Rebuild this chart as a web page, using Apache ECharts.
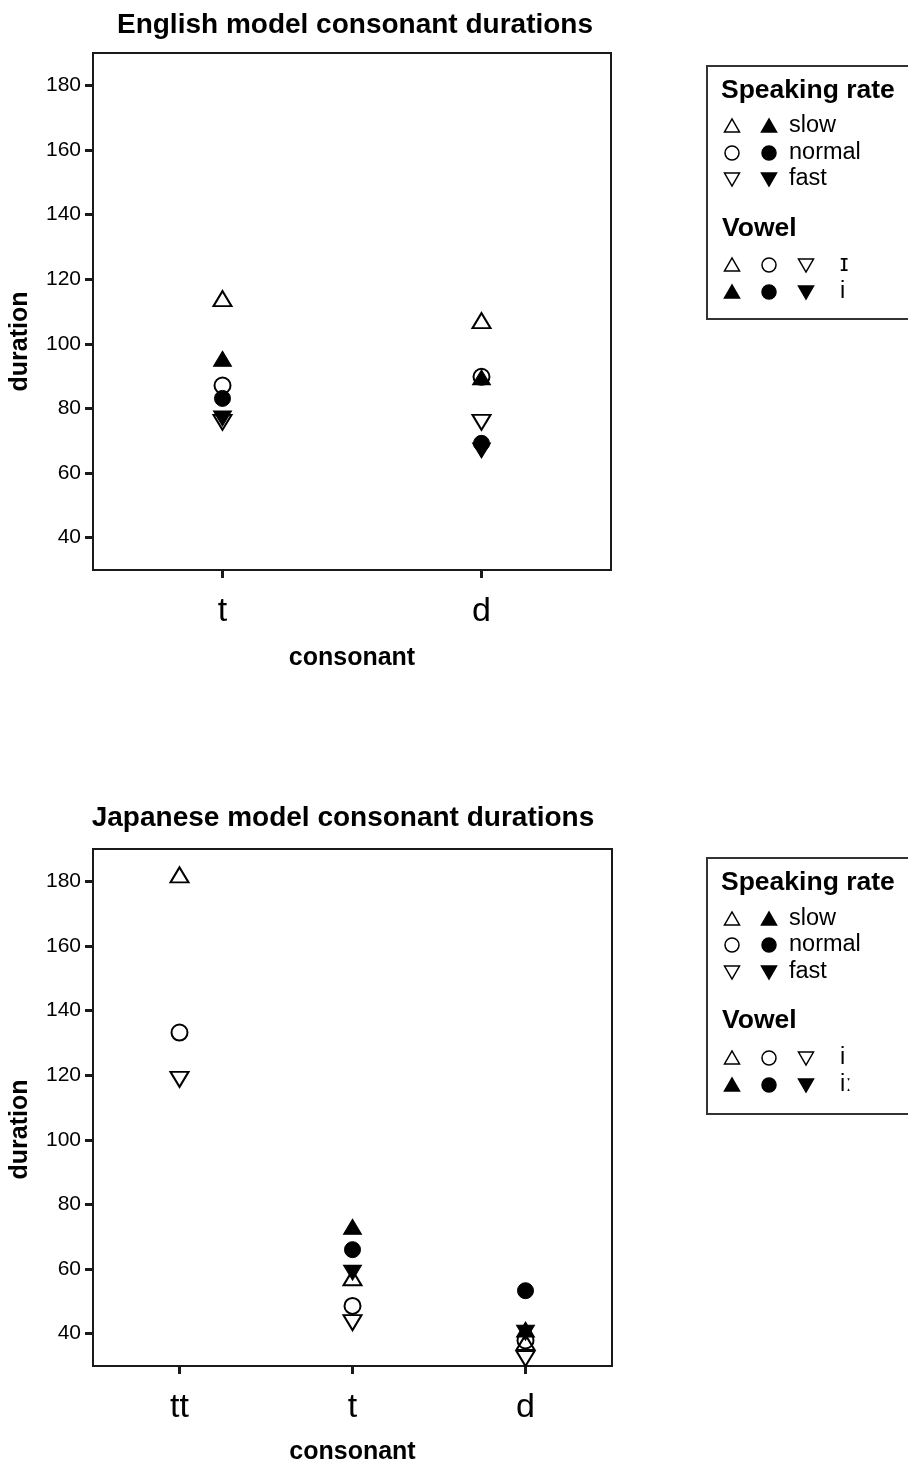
<!DOCTYPE html>
<html>
<head>
<meta charset="utf-8">
<script src="https://cdn.jsdelivr.net/npm/echarts@6/dist/echarts.min.js"></script>
<style>
html,body{margin:0;padding:0;background:#fff;}
#c{width:908px;height:1466px;}
</style>
</head>
<body>
<div id="c"></div>
<script>
// ---------- data ----------
const EN_categories = ['t', 'd'];
const EN_slow_I   = [114.0, 107.2];   // open up-triangle (ɪ)
const EN_slow_i   = [95.4, 89.6];     // filled up-triangle (i)
const EN_normal_I = [87.1, 89.8];     // open circle
const EN_normal_i = [83.1, 69.2];     // filled circle
const EN_fast_I   = [75.7, 75.7];     // open down-triangle
const EN_fast_i   = [76.9, 67.0];     // filled down-triangle

const JP_categories = ['tt', 't', 'd'];
const JP_slow_i    = [182.0, 57.3, 37.3];   // open (i)
const JP_slow_ii   = [null, 73.1, 41.3];    // filled (iː)
const JP_normal_i  = [133.2, 48.6, 37.9];
const JP_normal_ii = [null, 66.0, 53.3];
const JP_fast_i    = [118.7, 43.4, 32.3];
const JP_fast_ii   = [null, 58.9, 40.3];

const yTicks = [40, 60, 80, 100, 120, 140, 160, 180];
const rateLabels = ['slow', 'normal', 'fast'];
const EN_vowels = ['ɪ', 'i'];
const JP_vowels = ['i', 'iː'];

// ---------- style ----------
const FONT = 'Liberation Sans, Arial, Helvetica, sans-serif';
const INK = '#000';

function seriesDef(name, data, gi, symbol, filled, down) {
  return {
    type: 'scatter', name: name, xAxisIndex: gi, yAxisIndex: gi,
    data: data, symbol: symbol,
    symbolSize: symbol === 'circle' ? 16 : [18, 15],
    symbolRotate: down ? 180 : 0,
    itemStyle: filled ? { color: INK, borderColor: INK, borderWidth: 1, opacity: 1 }
                      : { color: 'rgba(0,0,0,0)', borderColor: INK, borderWidth: 2, opacity: 1 },
    emphasis: { disabled: true },
    z: filled ? 3 : 2
  };
}

function xAxisDef(gi, cats, gap) {
  return {
    type: 'category', gridIndex: gi, data: cats, boundaryGap: true,
    axisLine: { show: true, lineStyle: { color: '#1a1a1a', width: 2 } },
    axisTick: { show: true, alignWithLabel: true, length: 8, lineStyle: { color: '#1a1a1a', width: 3 } },
    axisLabel: { fontFamily: FONT, fontSize: 34, color: INK, margin: 25 },
    name: 'consonant', nameLocation: 'middle', nameGap: gap,
    nameTextStyle: { fontFamily: FONT, fontSize: 25, fontWeight: 'bold', color: INK },
    splitLine: { show: false }
  };
}

function yAxisDef(gi, shift) {
  return {
    type: 'value', gridIndex: gi, min: 30, max: 190,
    axisLine: { show: true, lineStyle: { color: '#1a1a1a', width: 2 } },
    axisTick: { show: true, customValues: yTicks, length: 8, lineStyle: { color: '#1a1a1a', width: 3 } },
    axisLabel: { customValues: yTicks, fontFamily: FONT, fontSize: 21, color: INK, margin: 12 },
    splitLine: { show: false },
    name: 'duration', nameLocation: 'middle', nameGap: 60,
    nameTextStyle: { fontFamily: FONT, fontSize: 25, fontWeight: 'bold', color: INK, padding: [0, shift, 0, 0] }
  };
}

// ---------- legend graphics ----------
function marker(x, y, shape, filled) {
  const style = { fill: filled ? INK : 'none', stroke: INK, lineWidth: 1.5 };
  if (shape === 'circle') return { type: 'circle', shape: { cx: x, cy: y, r: 7 }, style: style };
  const pts = shape === 'up' ? [[x - 7.5, y + 6], [x + 7.5, y + 6], [x, y - 7]]
                             : [[x - 7.5, y - 6], [x + 7.5, y - 6], [x, y + 7]];
  return { type: 'polygon', shape: { points: pts }, style: style };
}
function txt(x, y, s, size, bold) {
  return { type: 'text', x: x, y: y,
    style: { text: s, font: (bold ? 'bold ' : '') + size + 'px ' + FONT, fill: INK, align: 'left', verticalAlign: 'middle' } };
}
function legendBox(top, h, rows, vowelLabels) {
  const els = [];
  els.push({ type: 'rect', shape: { x: 707, y: top, width: 210, height: h },
    style: { fill: 'none', stroke: '#333', lineWidth: 2 } });
  els.push(txt(721, rows.head, 'Speaking rate', 26.5, true));
  const shapes = ['up', 'circle', 'down'];
  rows.rate.forEach((ry, k) => {
    els.push(marker(732, ry, shapes[k], false));
    els.push(marker(769, ry, shapes[k], true));
    els.push(txt(789, ry, rateLabels[k], 23.5, false));
  });
  els.push(txt(722, rows.vhead, 'Vowel', 26.5, true));
  rows.vowel.forEach((ry, k) => {
    els.push(marker(732, ry, 'up', k === 1));
    els.push(marker(769, ry, 'circle', k === 1));
    els.push(marker(806, ry, 'down', k === 1));
    els.push(txt(840, ry, vowelLabels[k], 23.5, false));
  });
  return els;
}

const graphics = []
  .concat(legendBox(66, 253, { head: 91, rate: [126, 153, 179], vhead: 229, vowel: [265, 292] }, EN_vowels))
  .concat(legendBox(858, 256, { head: 883, rate: [919, 945, 972], vhead: 1021, vowel: [1058, 1085] }, JP_vowels));

const option = {
  animation: false,
  backgroundColor: '#fff',
  title: [
    { text: 'English model consonant durations', left: 350, top: 6, textAlign: 'center',
      textStyle: { fontFamily: FONT, fontSize: 28, fontWeight: 'bold', color: INK } },
    { text: 'Japanese model consonant durations', left: 338, top: 799, textAlign: 'center',
      textStyle: { fontFamily: FONT, fontSize: 28, fontWeight: 'bold', color: INK } }
  ],
  grid: [
    { left: 92, top: 53, width: 519, height: 517, show: true, borderColor: '#1a1a1a', borderWidth: 2, backgroundColor: 'transparent' },
    { left: 92, top: 849, width: 520, height: 518, show: true, borderColor: '#1a1a1a', borderWidth: 2, backgroundColor: 'transparent' }
  ],
  xAxis: [xAxisDef(0, EN_categories, 76), xAxisDef(1, JP_categories, 74)],
  yAxis: [yAxisDef(0, 60), yAxisDef(1, 44)],
  series: [
    seriesDef('slow ɪ', EN_slow_I, 0, 'triangle', false, false),
    seriesDef('normal ɪ', EN_normal_I, 0, 'circle', false, false),
    seriesDef('fast ɪ', EN_fast_I, 0, 'triangle', false, true),
    seriesDef('slow i', EN_slow_i, 0, 'triangle', true, false),
    seriesDef('normal i', EN_normal_i, 0, 'circle', true, false),
    seriesDef('fast i', EN_fast_i, 0, 'triangle', true, true),
    seriesDef('slow i', JP_slow_i, 1, 'triangle', false, false),
    seriesDef('normal i', JP_normal_i, 1, 'circle', false, false),
    seriesDef('fast i', JP_fast_i, 1, 'triangle', false, true),
    seriesDef('slow iː', JP_slow_ii, 1, 'triangle', true, false),
    seriesDef('normal iː', JP_normal_ii, 1, 'circle', true, false),
    seriesDef('fast iː', JP_fast_ii, 1, 'triangle', true, true)
  ],
  graphic: graphics
};
const chart = echarts.init(document.getElementById('c'), null, { renderer: 'canvas' });
chart.setOption(option);
</script>
</body>
</html>
